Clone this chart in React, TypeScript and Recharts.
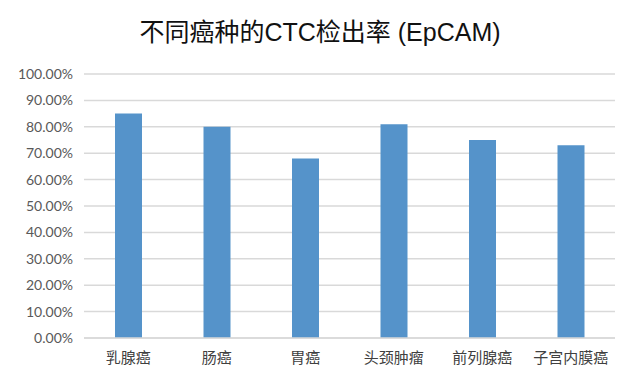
import React from "react";
import { Bar, BarChart, CartesianGrid, XAxis, YAxis } from "recharts";

const categories = ["乳腺癌", "肠癌", "胃癌", "头颈肿瘤", "前列腺癌", "子宫内膜癌"];
const detectionRate = [0.85, 0.8, 0.68, 0.81, 0.75, 0.73];
const yTicks = [0, 0.1, 0.2, 0.3, 0.4, 0.5, 0.6, 0.7, 0.8, 0.9, 1.0];

const data = categories.map((name, i) => ({ name, rate: detectionRate[i] }));

const fmtPct = (v: number) => (v * 100).toFixed(2) + "%";

export default function App() {
  return (
    <div style={{ position: "absolute", left: 0, top: 0, width: 640, height: 388, background: "#fff" }}>
      <div
        style={{
          position: "absolute",
          left: 0,
          top: 17,
          width: 640,
          textAlign: "center",
          fontFamily: "'Liberation Sans', 'Noto Sans CJK SC', sans-serif",
          fontSize: 25,
          color: "#111",
          lineHeight: "30px",
        }}
      >
        不同癌种的CTC检出率 (EpCAM)
      </div>
      <BarChart width={640} height={388} data={data} margin={{ top: 74, right: 25, bottom: 20, left: 0 }}>
        <CartesianGrid vertical={false} stroke="#d9d9d9" strokeWidth={1.5} />
        <XAxis
          dataKey="name"
          height={30}
          axisLine={{ stroke: "#d9d9d9", strokeWidth: 1.5 }}
          tickLine={false}
          tickSize={0}
          tickMargin={14}
          interval={0}
          tick={{ fill: "#404040", fontSize: 15, fontFamily: "'Noto Sans CJK SC', sans-serif" }}
        />
        <YAxis
          width={84}
          domain={[0, 1]}
          ticks={yTicks}
          tickFormatter={fmtPct}
          axisLine={false}
          tickLine={false}
          tickSize={0}
          tickMargin={11}
          tick={{ fill: "#595959", fontSize: 14, fontFamily: "Lato, 'Noto Sans CJK SC', sans-serif" }}
        />
        <Bar dataKey="rate" fill="#5593CA" barSize={27} isAnimationActive={false} />
      </BarChart>
    </div>
  );
}
